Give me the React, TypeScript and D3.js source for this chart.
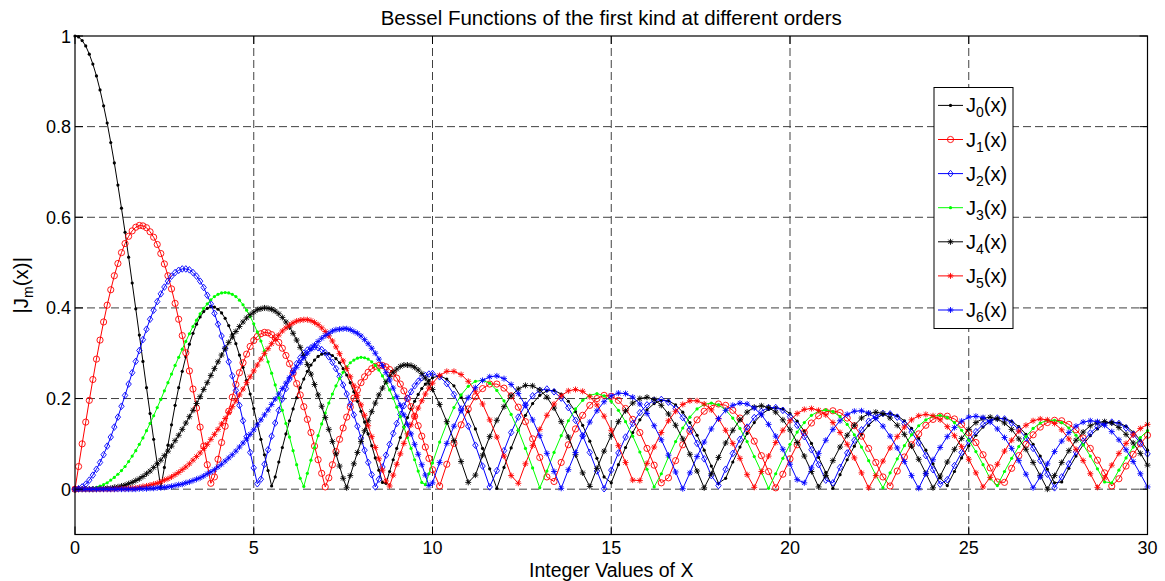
import React from "react";
import * as d3 from "d3";

// Sample positions along x (step 0.1 up to 10, then step 0.2 up to 30)
const xValues = [0,0.1,0.2,0.3,0.4,0.5,0.6,0.7,0.8,0.9,1,1.1,1.2,1.3,1.4,1.5,1.6,1.7,1.8,1.9,2,2.1,2.2,2.3,2.4,2.5,2.6,2.7,2.8,2.9,3,3.1,3.2,3.3,3.4,3.5,3.6,3.7,3.8,3.9,4,
4.1,4.2,4.3,4.4,4.5,4.6,4.7,4.8,4.9,5,5.1,5.2,5.3,5.4,5.5,5.6,5.7,5.8,5.9,6,6.1,6.2,6.3,6.4,6.5,6.6,6.7,6.8,6.9,7,7.1,7.2,7.3,7.4,7.5,7.6,7.7,7.8,7.9,8,8.1,
8.2,8.3,8.4,8.5,8.6,8.7,8.8,8.9,9,9.1,9.2,9.3,9.4,9.5,9.6,9.7,9.8,9.9,10,
10.2,10.4,10.6,10.8,11,11.2,11.4,11.6,11.8,12,12.2,12.4,12.6,12.8,13,13.2,13.4,13.6,13.8,14,14.2,14.4,
14.6,14.8,15,15.2,15.4,15.6,15.8,16,16.2,16.4,16.6,16.8,17,17.2,17.4,17.6,17.8,18,18.2,18.4,18.6,18.8,19,19.2,19.4,19.6,19.8,20,20.2,20.4,20.6,20.8,21,21.2,21.4,21.6,21.8,22,22.2,22.4,22.6,
22.8,23,23.2,23.4,23.6,23.8,24,24.2,24.4,24.6,24.8,25,25.2,25.4,25.6,25.8,26,26.2,26.4,26.6,26.8,27,27.2,27.4,27.6,27.8,28,28.2,28.4,28.6,28.8,29,29.2,29.4,29.6,29.8,30];

// |J_m(x)| in thousandths, one array per order
const J0 = [1000,998,990,978,960,938,912,881,846,808,765,720,671,620,567,512,455,398,340,282,224,167,110,56,3,48,97,142,185,224,260,292,320,344,364,380,392,399,403,402,397,
389,377,361,342,321,296,269,240,210,178,144,110,76,41,7,27,60,92,122,151,177,202,224,243,260,274,285,293,298,300,299,295,288,279,266,252,235,215,194,172,148,
122,96,69,42,15,13,39,65,90,114,137,158,177,194,209,222,232,240,246,250,243,228,203,171,133,90,45,2,48,91,130,163,189,207,217,218,210,194,171,141,106,
68,27,14,54,92,125,153,175,189,196,195,186,170,147,119,86,51,13,24,60,93,123,147,165,176,180,177,167,150,128,101,70,37,2,32,65,95,121,141,156,165,
167,162,151,134,112,86,56,25,8,39,69,96,119,137,150,156,156,150,138,121,99,73,44,14,16,46,73,98,118,133,144,148,146,139,126,108,86];
const J1 = [0,50,100,148,196,242,287,329,369,406,440,471,498,522,542,558,570,578,582,581,577,568,556,540,520,497,471,442,410,375,339,301,261,221,179,137,95,54,13,27,66,
103,139,172,203,231,257,279,298,315,328,337,343,346,345,341,334,324,311,295,277,256,233,208,182,154,125,95,65,35,5,25,54,83,110,135,159,181,201,219,235,248,
258,266,271,273,273,270,264,256,245,232,217,200,182,161,140,117,93,68,43,7,55,101,142,177,204,222,232,232,223,206,181,149,111,70,27,17,59,98,133,163,185,
200,207,205,196,178,154,125,90,53,14,25,63,98,128,153,172,184,188,185,174,157,134,106,74,39,3,33,67,98,125,146,162,171,173,169,157,140,117,90,59,27,
7,40,71,98,122,141,154,161,161,155,143,125,103,76,47,16,15,46,74,99,120,137,147,152,151,143,131,113,90,64,36,7,23,51,77,100,119];
const J2 = [0,1,5,11,20,31,44,59,76,95,115,137,159,183,207,232,257,282,306,330,353,375,395,414,431,446,459,470,478,483,486,486,484,478,470,459,445,428,409,388,364,
338,311,281,250,218,185,151,116,81,47,12,22,55,87,117,146,174,199,222,243,261,277,290,300,307,312,314,312,308,301,292,280,266,249,230,210,187,164,139,113,86,
59,32,5,22,49,75,99,123,145,165,184,201,215,228,238,246,251,254,255,248,233,209,177,139,97,51,5,41,85,125,159,186,206,218,221,215,201,180,152,118,81,
40,1,42,80,115,145,169,186,196,198,192,178,158,132,101,67,30,8,44,79,110,137,158,172,180,180,174,160,141,116,87,54,20,14,48,80,108,131,150,162,167,
166,159,145,126,102,74,43,11,21,52,81,106,127,143,153,157,155,146,132,113,90,63,33,3,27,56,82,106,124,138,146,148,145,135,121,102,78];
const J3 = [0,0,0,1,1,3,4,7,10,14,20,26,33,41,50,61,73,85,99,113,129,145,162,180,198,217,235,254,273,291,309,326,343,359,373,387,399,409,418,425,430,
433,434,433,430,425,417,407,395,381,365,347,327,305,281,256,230,202,174,145,115,85,54,24,6,35,64,92,118,144,168,190,210,228,244,258,270,279,285,289,291,290,
287,281,273,263,250,235,219,201,181,160,137,114,90,65,40,15,10,34,58,104,145,180,208,227,238,240,234,218,195,165,130,90,47,3,40,81,118,151,177,196,207,
211,206,194,174,149,117,82,44,5,34,71,105,135,159,177,187,190,186,175,157,134,105,72,38,2,34,68,99,126,147,163,172,175,171,160,143,120,93,63,31,3,
36,67,96,120,140,153,161,163,158,147,130,108,83,54,23,8,39,68,94,116,134,146,152,152,147,135,119,98,73,45,16,14,42,69,93,114,129];
const J4 = [0,0,0,0,0,0,0,1,1,2,2,4,5,7,9,12,15,19,23,28,34,40,48,56,64,74,84,95,107,119,132,146,160,174,189,204,220,235,251,266,281,
296,310,324,336,348,359,369,378,385,391,396,398,400,399,397,393,387,379,369,358,344,329,313,295,275,254,231,208,183,158,132,105,78,51,24,3,30,56,81,105,129,
151,171,190,208,223,237,249,258,265,271,274,274,273,269,263,255,245,233,220,187,149,107,61,15,31,75,116,152,182,206,221,229,228,219,203,179,149,115,76,36,6,
46,84,119,149,173,190,200,203,198,185,166,141,111,77,40,3,34,70,102,130,153,170,181,184,180,170,153,131,103,73,39,5,30,63,93,119,141,157,167,170,167,
157,141,121,95,66,35,3,29,60,88,112,132,147,156,159,155,146,132,111,88,59,30,0,30,59,85,108,126,140,147,149,146,136,121,102,79,53];
const J5 = [0,0,0,0,0,0,0,0,0,0,0,0,1,1,1,2,2,3,4,6,7,9,11,13,16,20,23,27,32,37,43,49,56,64,72,80,90,99,110,121,132,
144,156,169,182,195,208,221,235,248,261,274,287,299,310,321,331,340,349,356,362,367,371,373,374,374,372,368,363,356,348,338,327,314,299,283,266,248,228,207,186,163,
140,116,92,67,42,18,7,31,55,78,101,122,142,161,179,195,210,223,234,251,260,260,253,238,216,188,153,115,73,30,13,56,96,132,163,188,206,217,220,216,204,
186,161,130,96,59,20,19,57,93,125,151,172,187,195,195,188,175,155,130,101,68,32,4,39,73,103,130,151,167,176,178,174,164,147,125,99,69,36,3,30,62,
91,116,137,153,162,165,162,153,138,118,94,66,36,5,26,55,84,108,128,141,151,155,153,145,131,111,88,63,34,4,25,53,79,101,120,134,143];
const J6 = [0,0,0,0,0,0,0,0,0,0,0,0,0,0,0,0,0,0,1,1,1,2,2,3,3,4,5,6,8,10,11,14,16,19,22,25,29,34,38,43,49,
55,62,69,76,84,93,102,111,121,131,142,153,164,175,187,199,210,222,234,246,257,269,279,290,300,309,318,326,333,339,344,349,352,353,354,354,352,348,344,338,330,
321,311,300,287,273,257,241,223,204,185,164,143,122,99,77,54,31,8,14,59,101,139,173,202,224,240,248,250,244,231,211,185,153,118,79,39,2,43,81,117,148,
173,193,206,212,211,203,188,167,140,109,75,38,1,36,72,104,133,156,174,185,190,188,179,164,143,117,88,55,21,14,47,79,108,132,151,165,172,173,168,156,139,
117,91,61,30,2,34,65,92,116,136,150,159,161,158,148,133,114,90,63,33,3,27,56,83,106,125,139,148,151,149,141,127,109,87,61,34,5];

const seriesValues = [J0, J1, J2, J3, J4, J5, J6];
const seriesOrders = ["0", "1", "2", "3", "4", "5", "6"];
const seriesColors = ["#000000", "#ff0000", "#0000ff", "#00ff00", "#000000", "#ff0000", "#0000ff"];
const seriesMarkers = ["dot", "circle", "diamond", "dot", "star", "star", "star"];

const xTicks = [0, 5, 10, 15, 20, 25, 30];
const xTickLabels = ["0", "5", "10", "15", "20", "25", "30"];
const yTicks = [0, 200, 400, 600, 800, 1000]; // thousandths
const yTickLabels = ["0", "0.2", "0.4", "0.6", "0.8", "1"];
const titleText = "Bessel Functions of the first kind at different orders";
const xLabelText = "Integer Values of X";

const FONT = "'Liberation Sans', Arial, Helvetica, sans-serif";
const L = 75, R = 1147.5, T = 36, B = 534.5;

function Marker({ kind, x, y, color }: { kind: string; x: number; y: number; color: string }) {
  if (kind === "dot") return <circle cx={x} cy={y} r={1.6} fill={color} />;
  if (kind === "circle") return <circle cx={x} cy={y} r={3.1} fill="none" stroke={color} strokeWidth={0.9} />;
  if (kind === "diamond")
    return <path d={`M${x},${y - 3.3}L${x + 2.7},${y}L${x},${y + 3.3}L${x - 2.7},${y}Z`} fill="none" stroke={color} strokeWidth={0.9} />;
  const s = 3, d = 2.2;
  return (
    <path
      d={`M${x - s},${y}L${x + s},${y}M${x},${y - s}L${x},${y + s}M${x - d},${y - d}L${x + d},${y + d}M${x - d},${y + d}L${x + d},${y - d}`}
      stroke={color}
      strokeWidth={0.9}
      fill="none"
    />
  );
}

export default function App() {
  const xScale = d3.scaleLinear().domain([0, 30]).range([L, R]);
  const yScale = d3.scaleLinear().domain([-100, 1000]).range([B, T]);
  const line = d3
    .line<number>()
    .x((_, i) => xScale(xValues[i]))
    .y((d) => yScale(d));

  const legendTop = 87.5;
  const legendStep = 34.1;
  const legendFirst = 105.4;

  return (
    <svg
      width={1165}
      height={581}
      style={{ position: "absolute", left: 0, top: 0, background: "#fff" }}
      fontFamily={FONT}
    >
      <rect x={0} y={0} width={1165} height={581} fill="#fff" />
      {/* grid */}
      {xTicks.slice(1, -1).map((t) => (
        <line key={"gx" + t} x1={xScale(t)} x2={xScale(t)} y1={T} y2={B} stroke="#404040" strokeWidth={1} strokeDasharray="8,4" />
      ))}
      {yTicks.slice(0, -1).map((t) => (
        <line key={"gy" + t} x1={L} x2={R} y1={yScale(t)} y2={yScale(t)} stroke="#404040" strokeWidth={1} strokeDasharray="8,4" />
      ))}
      {/* series */}
      {seriesValues.map((vals, si) => (
        <g key={"s" + si}>
          <path d={line(vals) || ""} fill="none" stroke={seriesColors[si]} strokeWidth={1} />
          {vals.map((v, i) => (
            <Marker key={i} kind={seriesMarkers[si]} x={xScale(xValues[i])} y={yScale(v)} color={seriesColors[si]} />
          ))}
        </g>
      ))}
      {/* axes box and ticks */}
      <rect x={L} y={T} width={R - L} height={B - T} fill="none" stroke="#000" strokeWidth={1.2} />
      {xTicks.map((t) => (
        <g key={"tx" + t}>
          <line x1={xScale(t)} x2={xScale(t)} y1={B} y2={B - 8} stroke="#000" />
          <line x1={xScale(t)} x2={xScale(t)} y1={T} y2={T + 8} stroke="#000" />
        </g>
      ))}
      {yTicks.map((t) => (
        <g key={"ty" + t}>
          <line x1={L} x2={L + 8} y1={yScale(t)} y2={yScale(t)} stroke="#000" />
          <line x1={R} x2={R - 8} y1={yScale(t)} y2={yScale(t)} stroke="#000" />
        </g>
      ))}
      {xTicks.map((t, i) => (
        <text key={"lx" + t} x={xScale(t)} y={554} fontSize={18} textAnchor="middle" fill="#000">
          {xTickLabels[i]}
        </text>
      ))}
      {yTicks.map((t, i) => (
        <text key={"ly" + t} x={71} y={yScale(t) + 6.5} fontSize={18} textAnchor="end" fill="#000">
          {yTickLabels[i]}
        </text>
      ))}
      {/* title and labels */}
      <text x={(L + R) / 2} y={25} fontSize={20.5} textAnchor="middle" fill="#000">
        {titleText}
      </text>
      <text x={(L + R) / 2} y={577} fontSize={19.5} textAnchor="middle" fill="#000">
        {xLabelText}
      </text>
      <text transform={`translate(28,${(T + B) / 2}) rotate(-90)`} fontSize={20.5} textAnchor="middle" fill="#000">
        |J<tspan fontSize={14} dy={5}>m</tspan>
        <tspan dy={-5}>(x)|</tspan>
      </text>
      {/* legend */}
      <rect x={934} y={legendTop} width={79} height={241} fill="#fff" stroke="#000" strokeWidth={1} />
      {seriesOrders.map((o, i) => {
        const cy = legendFirst + i * legendStep;
        return (
          <g key={"lg" + i}>
            <line x1={938} x2={963} y1={cy} y2={cy} stroke={seriesColors[i]} strokeWidth={1} />
            <Marker kind={seriesMarkers[i]} x={950.5} y={cy} color={seriesColors[i]} />
            <text x={966} y={cy + 7} fontSize={20} fill="#000">
              J<tspan fontSize={14} dy={5}>{o}</tspan>
              <tspan dy={-5}>(x)</tspan>
            </text>
          </g>
        );
      })}
    </svg>
  );
}
